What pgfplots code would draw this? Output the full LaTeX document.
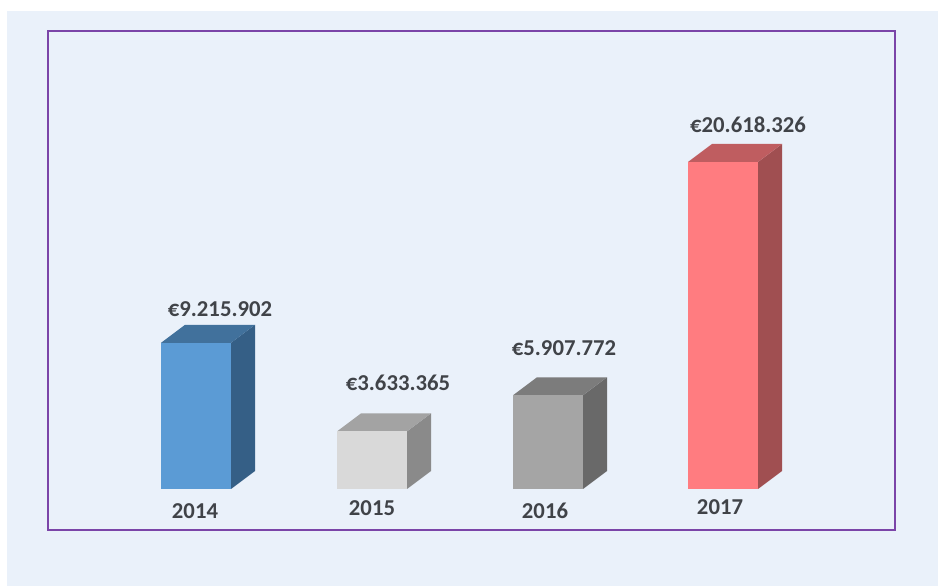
\documentclass[border=0pt]{standalone}
\usepackage{fontspec}
\setmainfont{Carlito}
\usepackage{pgfplots}
\pgfplotsset{compat=1.18}
\definecolor{pagebg}{HTML}{EAF1FA}
\definecolor{framec}{HTML}{7B45A8}
\definecolor{txt}{HTML}{404348}
\definecolor{bA}{HTML}{5B9BD5}\definecolor{bAt}{HTML}{41719C}\definecolor{bAs}{HTML}{355F86}
\definecolor{bB}{HTML}{D9D9D9}\definecolor{bBt}{HTML}{A3A3A3}\definecolor{bBs}{HTML}{8A8A8A}
\definecolor{bC}{HTML}{A5A5A5}\definecolor{bCt}{HTML}{7C7C7C}\definecolor{bCs}{HTML}{696969}
\definecolor{bD}{HTML}{FF7C80}\definecolor{bDt}{HTML}{BF5D60}\definecolor{bDs}{HTML}{A04F51}
\begin{document}
\begin{tikzpicture}
\begin{axis}[
  scale only axis, width=938bp, height=586bp,
  xmin=0, xmax=938, ymin=-6116044, ymax=30832428,
  hide axis, clip=false,
]
% full page extent (white margin at left and top)
\addplot[draw=white, line width=0pt, fill=white, forget plot] coordinates {(0,-6116044) (938,-6116044) (938,30832428) (0,30832428)} -- cycle;
% background and frame
\addplot[draw=none, fill=pagebg, forget plot] coordinates {(7,-6116044) (938,-6116044) (938,30138856) (7,30138856)} -- cycle;
\addplot[draw=framec, line width=1.4bp, fill=none, forget plot] coordinates {(48,-2585132) (895,-2585132) (895,28877816) (48,28877816)} -- cycle;
% 2014
\addplot[draw=none, fill=bAs, forget plot] coordinates {(231,0) (255,1134936) (255,10350838) (231,9215902)} -- cycle;
\addplot[draw=none, fill=bAt, forget plot] coordinates {(161,9215902) (231,9215902) (255,10350838) (185,10350838)} -- cycle;
\addplot[draw=none, fill=bA, forget plot] coordinates {(161,0) (231,0) (231,9215902) (161,9215902)} -- cycle;
% 2015
\addplot[draw=none, fill=bBs, forget plot] coordinates {(407,0) (431,1134936) (431,4768301) (407,3633365)} -- cycle;
\addplot[draw=none, fill=bBt, forget plot] coordinates {(337,3633365) (407,3633365) (431,4768301) (361,4768301)} -- cycle;
\addplot[draw=none, fill=bB, forget plot] coordinates {(337,0) (407,0) (407,3633365) (337,3633365)} -- cycle;
% 2016
\addplot[draw=none, fill=bCs, forget plot] coordinates {(583,0) (607,1134936) (607,7042708) (583,5907772)} -- cycle;
\addplot[draw=none, fill=bCt, forget plot] coordinates {(513,5907772) (583,5907772) (607,7042708) (537,7042708)} -- cycle;
\addplot[draw=none, fill=bC, forget plot] coordinates {(513,0) (583,0) (583,5907772) (513,5907772)} -- cycle;
% 2017
\addplot[draw=none, fill=bDs, forget plot] coordinates {(758,0) (782,1134936) (782,21753262) (758,20618326)} -- cycle;
\addplot[draw=none, fill=bDt, forget plot] coordinates {(688,20618326) (758,20618326) (782,21753262) (712,21753262)} -- cycle;
\addplot[draw=none, fill=bD, forget plot] coordinates {(688,0) (758,0) (758,20618326) (688,20618326)} -- cycle;
% labels
\begin{scope}[every node/.style={font=\fontsize{22.8}{26}\selectfont\bfseries, text=txt, inner sep=0pt}]
\node at (axis cs:220,11349360) {€9.215.902};
\node at (axis cs:398,6683512) {€3.633.365};
\node at (axis cs:564,8890332) {€5.907.772};
\node at (axis cs:748,22950928) {€20.618.326};
\node at (axis cs:195,-1387144) {2014};
\node at (axis cs:372,-1197988) {2015};
\node at (axis cs:545,-1387144) {2016};
\node at (axis cs:720,-1134936) {2017};
\end{scope}
\end{axis}
\end{tikzpicture}
\end{document}
